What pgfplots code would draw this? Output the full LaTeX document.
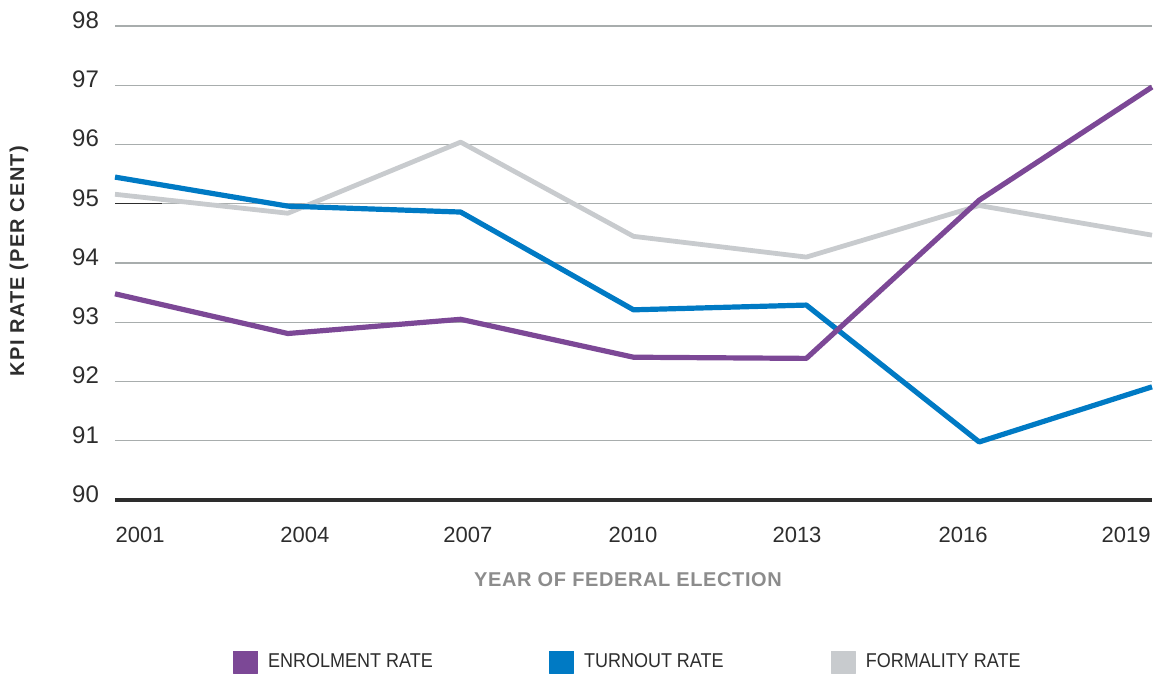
\documentclass[border=0pt]{standalone}
\usepackage{fontspec}
\setmainfont{Liberation Sans}
\newfontfamily\xtitlefont[LetterSpace=3]{Liberation Sans}
\newfontfamily\ytitlefont[LetterSpace=6]{Liberation Sans}
\usepackage{pgfplots}
\pgfplotsset{compat=1.18}

\definecolor{enrol}{RGB}{124,72,150}
\definecolor{turnout}{RGB}{0,122,196}
\definecolor{formal}{RGB}{200,203,206}
\definecolor{gridgray}{RGB}{168,173,173}
\definecolor{textdark}{RGB}{45,45,45}
\definecolor{titlegray}{RGB}{140,140,140}

\begin{document}
\begin{tikzpicture}
\begin{axis}[
  scale only axis,
  width=518.5pt, height=237pt,
  xmin=0, xmax=6, ymin=90, ymax=98,
  axis line style={draw=none},
  clip=false,
  /pgf/number format/assume math mode=true,
  ytick={91,92,...,98},
  extra y ticks={90},
  extra y tick style={grid style={draw=textdark, line width=1.6pt}},
  ymajorgrids,
  grid style={draw=gridgray, line width=0.6pt},
  major tick length=0pt,
  yticklabel style={font=\fontsize{12}{14}\selectfont, text=textdark, xshift=-4.5pt, yshift=3pt},
  xtick={0.145,1.099,2.042,2.997,3.946,4.907,5.850},
  xticklabels={2001,2004,2007,2010,2013,2016,2019},
  xticklabel style={font=\fontsize{11}{13}\selectfont, text=textdark, yshift=-10pt},
  xlabel={\xtitlefont\bfseries YEAR OF FEDERAL ELECTION},
  xlabel style={at={(axis description cs:0.4947,-0.1688)}, anchor=center,
                font=\fontsize{10}{12}\selectfont, text=titlegray},
  ylabel={\ytitlefont\bfseries KPI RATE (PER CENT)},
  ylabel style={at={(axis description cs:-0.0926,0.504)}, anchor=center,
                font=\fontsize{10}{12}\selectfont, text=textdark},
  legend columns=3,
  legend style={at={(axis description cs:0.1138,-0.3418)}, anchor=west,
                draw=none, fill=none, inner sep=0pt,
                nodes={inner sep=0pt, anchor=west},
                font=\fontsize{10}{12}\selectfont, text=textdark},
  legend image code/.code={\fill[#1] (0pt,-5.5pt) rectangle (12pt,5.5pt);},
  line join=round,
]
% FORMALITY RATE
\addplot[formal, line width=2.4pt, forget plot] coordinates {
  (0,95.16) (1,94.84) (2,96.04) (3,94.45) (4,94.10) (5,94.97) (6,94.47)};
% TURNOUT RATE
\addplot[turnout, line width=2.6pt, forget plot] coordinates {
  (0,95.45) (1,94.96) (2,94.86) (3,93.21) (4,93.29) (5,90.98) (6,91.91)};
% ENROLMENT RATE
\addplot[enrol, line width=2.6pt, forget plot] coordinates {
  (0,93.48) (1,92.81) (2,93.05) (3,92.41) (4,92.39) (5,95.06) (6,96.97)};

% short dark stub on the 95 gridline
\draw[textdark, line width=0.6pt] (axis cs:0,95) -- (axis cs:0.27,95);

\addlegendimage{enrol}
\addlegendentry{\makebox[145.5pt][l]{\hspace{5pt}\scalebox{0.9}[1]{ENROLMENT RATE}}}
\addlegendimage{turnout}
\addlegendentry{\makebox[128.5pt][l]{\hspace{5pt}\scalebox{0.9}[1]{TURNOUT RATE}}}
\addlegendimage{formal}
\addlegendentry{\makebox[90pt][l]{\hspace{5pt}\scalebox{0.9}[1]{FORMALITY RATE}}}
\end{axis}
\pgfresetboundingbox
\path[use as bounding box] (-57.5pt,-90.5pt) rectangle (522pt,250pt);
\end{tikzpicture}
\end{document}
